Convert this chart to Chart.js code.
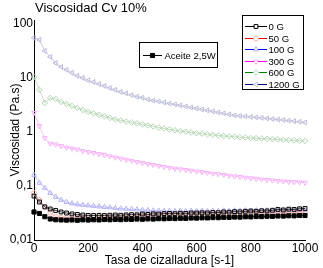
<!DOCTYPE html>
<html><head><meta charset="utf-8">
<script src="https://cdn.jsdelivr.net/npm/chart.js@4.4.1/dist/chart.umd.min.js"></script>
<style>html,body{margin:0;padding:0;background:#fff;}canvas{display:block;}</style>
</head><body>
<canvas id="c" width="323" height="268"></canvas>
<script>
const titleText = 'Viscosidad Cv 10%';
const xTitle = 'Tasa de cizalladura [s-1]';
const yTitle = 'Viscosidad (Pa.s)';
const xTicks = [0, 200, 400, 600, 800, 1000];
const yTicks = [0.01, 0.1, 1, 10, 100];
const yTickLabels = ['0,01', '0,1', '1', '10', '100'];

const shearRate = [0,20,40,60,80,100,120,140,160,180,200,220,240,260,280,300,320,340,360,380,400,420,440,460,480,500,520,540,560,580,600,620,640,660,680,700,720,740,760,780,800,820,840,860,880,900,920,940,960,980,1000];

const g0 = [0.065,0.0505,0.041,0.0375,0.0352,0.033,0.0316,0.0304,0.0297,0.029,0.0285,0.0284,0.0286,0.0284,0.0288,0.029,0.0287,0.0292,0.0295,0.0293,0.0303,0.0298,0.0305,0.0302,0.0308,0.031,0.0307,0.0313,0.0311,0.0316,0.0316,0.0319,0.0317,0.0323,0.032,0.033,0.0327,0.0335,0.0332,0.034,0.0344,0.034,0.0348,0.0345,0.0355,0.0367,0.036,0.0372,0.0368,0.0378,0.0383];
const g50 = [0.074,0.055,0.041,0.032,0.027,0.0258,0.0255,0.0255,0.0256,0.0258,0.026,0.0262,0.0265,0.0267,0.027,0.0272,0.0275,0.0277,0.028,0.0282,0.0285,0.0287,0.029,0.0292,0.0295,0.0297,0.0299,0.03,0.0302,0.0303,0.0305,0.0306,0.0307,0.0308,0.031,0.0311,0.0312,0.0313,0.0314,0.0315,0.0316,0.0317,0.0318,0.0319,0.032,0.0321,0.0322,0.0323,0.0324,0.0325,0.0326];
const g100 = [0.16,0.114,0.092,0.074,0.0625,0.055,0.0505,0.0474,0.0454,0.0445,0.0435,0.0426,0.0417,0.0408,0.040,0.0387,0.0382,0.0376,0.0371,0.0366,0.036,0.0356,0.0351,0.0348,0.0344,0.0345,0.034,0.0346,0.034,0.0347,0.0342,0.0348,0.0343,0.0349,0.0344,0.035,0.0345,0.0351,0.0346,0.0352,0.0347,0.0353,0.0348,0.0354,0.0349,0.0356,0.035,0.0357,0.0352,0.0358,0.0355];
const g300 = [2.25,1.29,0.77,0.61,0.587,0.55,0.516,0.495,0.474,0.445,0.426,0.409,0.391,0.375,0.355,0.337,0.323,0.307,0.293,0.279,0.267,0.255,0.245,0.235,0.225,0.217,0.21,0.204,0.198,0.192,0.186,0.181,0.175,0.170,0.1655,0.1605,0.156,0.151,0.147,0.143,0.1395,0.136,0.1325,0.1297,0.127,0.1243,0.122,0.120,0.1186,0.117,0.1156];
const g600 = [10.4,6.0,3.44,4.26,4.08,3.59,3.30,3.03,2.78,2.55,2.35,2.20,2.06,1.94,1.82,1.70,1.63,1.56,1.50,1.44,1.38,1.32,1.26,1.21,1.16,1.11,1.075,1.04,1.01,0.98,0.95,0.93,0.90,0.88,0.86,0.84,0.83,0.815,0.80,0.79,0.77,0.765,0.755,0.745,0.735,0.726,0.717,0.708,0.70,0.69,0.68];
const g1200 = [55.1,50.6,31.6,24.5,18.9,16.0,14.1,12.4,10.9,10.0,9.0,8.4,7.7,7.1,6.5,6.0,5.5,5.2,4.8,4.5,4.3,4.0,3.8,3.67,3.52,3.37,3.23,3.10,2.97,2.84,2.72,2.61,2.50,2.40,2.30,2.20,2.11,2.02,1.98,1.94,1.90,1.86,1.82,1.78,1.74,1.70,1.66,1.62,1.58,1.54,1.50];
const aceite = [0.033,0.031,0.027,0.0245,0.0237,0.0235,0.0233,0.0235,0.0232,0.0236,0.0234,0.0237,0.0235,0.0239,0.0237,0.024,0.0238,0.0242,0.024,0.0244,0.0242,0.0246,0.0244,0.0248,0.0247,0.025,0.0249,0.0252,0.0251,0.0255,0.0254,0.0257,0.0256,0.026,0.0259,0.0263,0.0262,0.0266,0.0265,0.0269,0.0268,0.0272,0.0271,0.0275,0.0274,0.0278,0.0277,0.0281,0.028,0.0284,0.0284];

const FONT = '"Liberation Sans", Arial, sans-serif';
const pts = arr => shearRate.map((x, i) => ({x: x, y: arr[i]}));

function mk(label, arr, color, legendColor, style, rot, fill, radius) {
  return {
    label: label, data: pts(arr),
    borderColor: color, backgroundColor: fill,
    pointBorderColor: color, pointBackgroundColor: fill,
    pointStyle: style, pointRotation: rot, pointRadius: radius || 2.6,
    pointBorderWidth: 1, borderWidth: 0.8, tension: 0, clip: 8,
    legendColor: legendColor
  };
}

const datasets = [
  mk('Aceite 2,5W', aceite, '#000000', '#000000', 'rect', 0, '#000000', 2.9),
  mk('0 G', g0, '#000000', '#000000', 'rect', 0, 'rgba(0,0,0,0)', 2.7),
  mk('50 G', g50, '#f6b0b0', '#e00000', 'circle', 0, 'rgba(0,0,0,0)', 2.4),
  mk('100 G', g100, '#b0b0f6', '#0000ff', 'triangle', 0, 'rgba(0,0,0,0)', 2.8),
  mk('300 G', g300, '#f6b0f6', '#ff00ff', 'triangle', 180, 'rgba(0,0,0,0)', 2.8),
  mk('600 G', g600, '#b4d4b4', '#008000', 'rectRot', 0, 'rgba(0,0,0,0)', 2.8),
  mk('1200 G', g1200, '#bcbcda', '#000080', 'triangle', -90, 'rgba(0,0,0,0)', 2.8)
];

function marker(ctx, ds, x, y, fillOverride) {
  const opts = {pointStyle: ds.pointStyle, rotation: ds.pointRotation, radius: ds.pointRadius, borderWidth: 1};
  ctx.save();
  ctx.strokeStyle = ds.pointBorderColor;
  ctx.fillStyle = fillOverride || ds.pointBackgroundColor;
  ctx.lineWidth = 1;
  Chart.helpers.drawPoint(ctx, opts, x, y);
  ctx.restore();
}

const overlay = {
  id: 'overlay',
  afterDraw(chart) {
    const ctx = chart.ctx;
    ctx.save();
    ctx.fillStyle = '#000';
    ctx.textBaseline = 'middle';
    ctx.textAlign = 'left';
    ctx.font = '13px ' + FONT;
    ctx.fillText(titleText, 35, 8);

    // main legend
    ctx.strokeStyle = '#000'; ctx.lineWidth = 1;
    ctx.strokeRect(242.5, 15.5, 61, 74);
    ctx.font = '9.5px ' + FONT;
    const sets = chart.data.datasets.slice(1);
    sets.forEach((ds, i) => {
      const y = Math.round(26 + i * 11.5) + 0.5;
      ctx.strokeStyle = ds.legendColor;
      ctx.beginPath(); ctx.moveTo(245, y); ctx.lineTo(267, y); ctx.stroke();
      marker(ctx, ds, 256, y, '#ffffff');
      ctx.fillStyle = '#000';
      ctx.fillText(ds.label, 268.5, y + 0.5);
    });

    // oil legend
    const ds = chart.data.datasets[0];
    ctx.strokeStyle = '#000';
    ctx.strokeRect(139.5, 42.5, 78, 25);
    ctx.beginPath(); ctx.moveTo(143, 55.5); ctx.lineTo(162, 55.5); ctx.stroke();
    marker(ctx, ds, 152.5, 55.5);
    ctx.fillStyle = '#000';
    ctx.font = '9.5px ' + FONT;
    ctx.fillText(ds.label, 164.5, 56);
    ctx.restore();
  }
};

new Chart(document.getElementById('c'), {
  type: 'line',
  data: { datasets: datasets },
  plugins: [overlay],
  options: {
    responsive: false, animation: false,
    layout: { padding: { left: 0, right: 18, top: 20, bottom: 0 } },
    plugins: { legend: { display: false }, tooltip: { enabled: false }, title: { display: false } },
    scales: {
      x: {
        type: 'linear', min: 0, max: 1000,
        afterFit: s => { s.height = 28; },
        afterBuildTicks: s => { s.ticks = xTicks.map(v => ({value: v})); },
        grid: { display: false, drawTicks: false },
        border: { display: true, color: '#000', width: 1 },
        ticks: { color: '#000', font: { family: FONT, size: 12 }, padding: 1, autoSkip: false, maxRotation: 0,
                 callback: v => String(v) },
        title: { display: true, text: xTitle, color: '#000', font: { family: FONT, size: 12 }, padding: 0 }
      },
      y: {
        type: 'logarithmic', min: 0.01, max: 118,
        afterFit: s => { s.width = 34; },
        afterBuildTicks: s => { s.ticks = yTicks.map(v => ({value: v})); },
        grid: { display: false, drawTicks: false },
        border: { display: true, color: '#000', width: 1 },
        ticks: { color: '#000', font: { family: FONT, size: 12 }, padding: 1, autoSkip: false,
                 callback: v => { const i = yTicks.findIndex(t => Math.abs(t - v) / t < 1e-6); return i >= 0 ? yTickLabels[i] : null; } },
        title: { display: true, text: yTitle, color: '#000', font: { family: FONT, size: 12 }, padding: { top: 8, bottom: 0 } }
      }
    }
  }
});
</script>
</body></html>
